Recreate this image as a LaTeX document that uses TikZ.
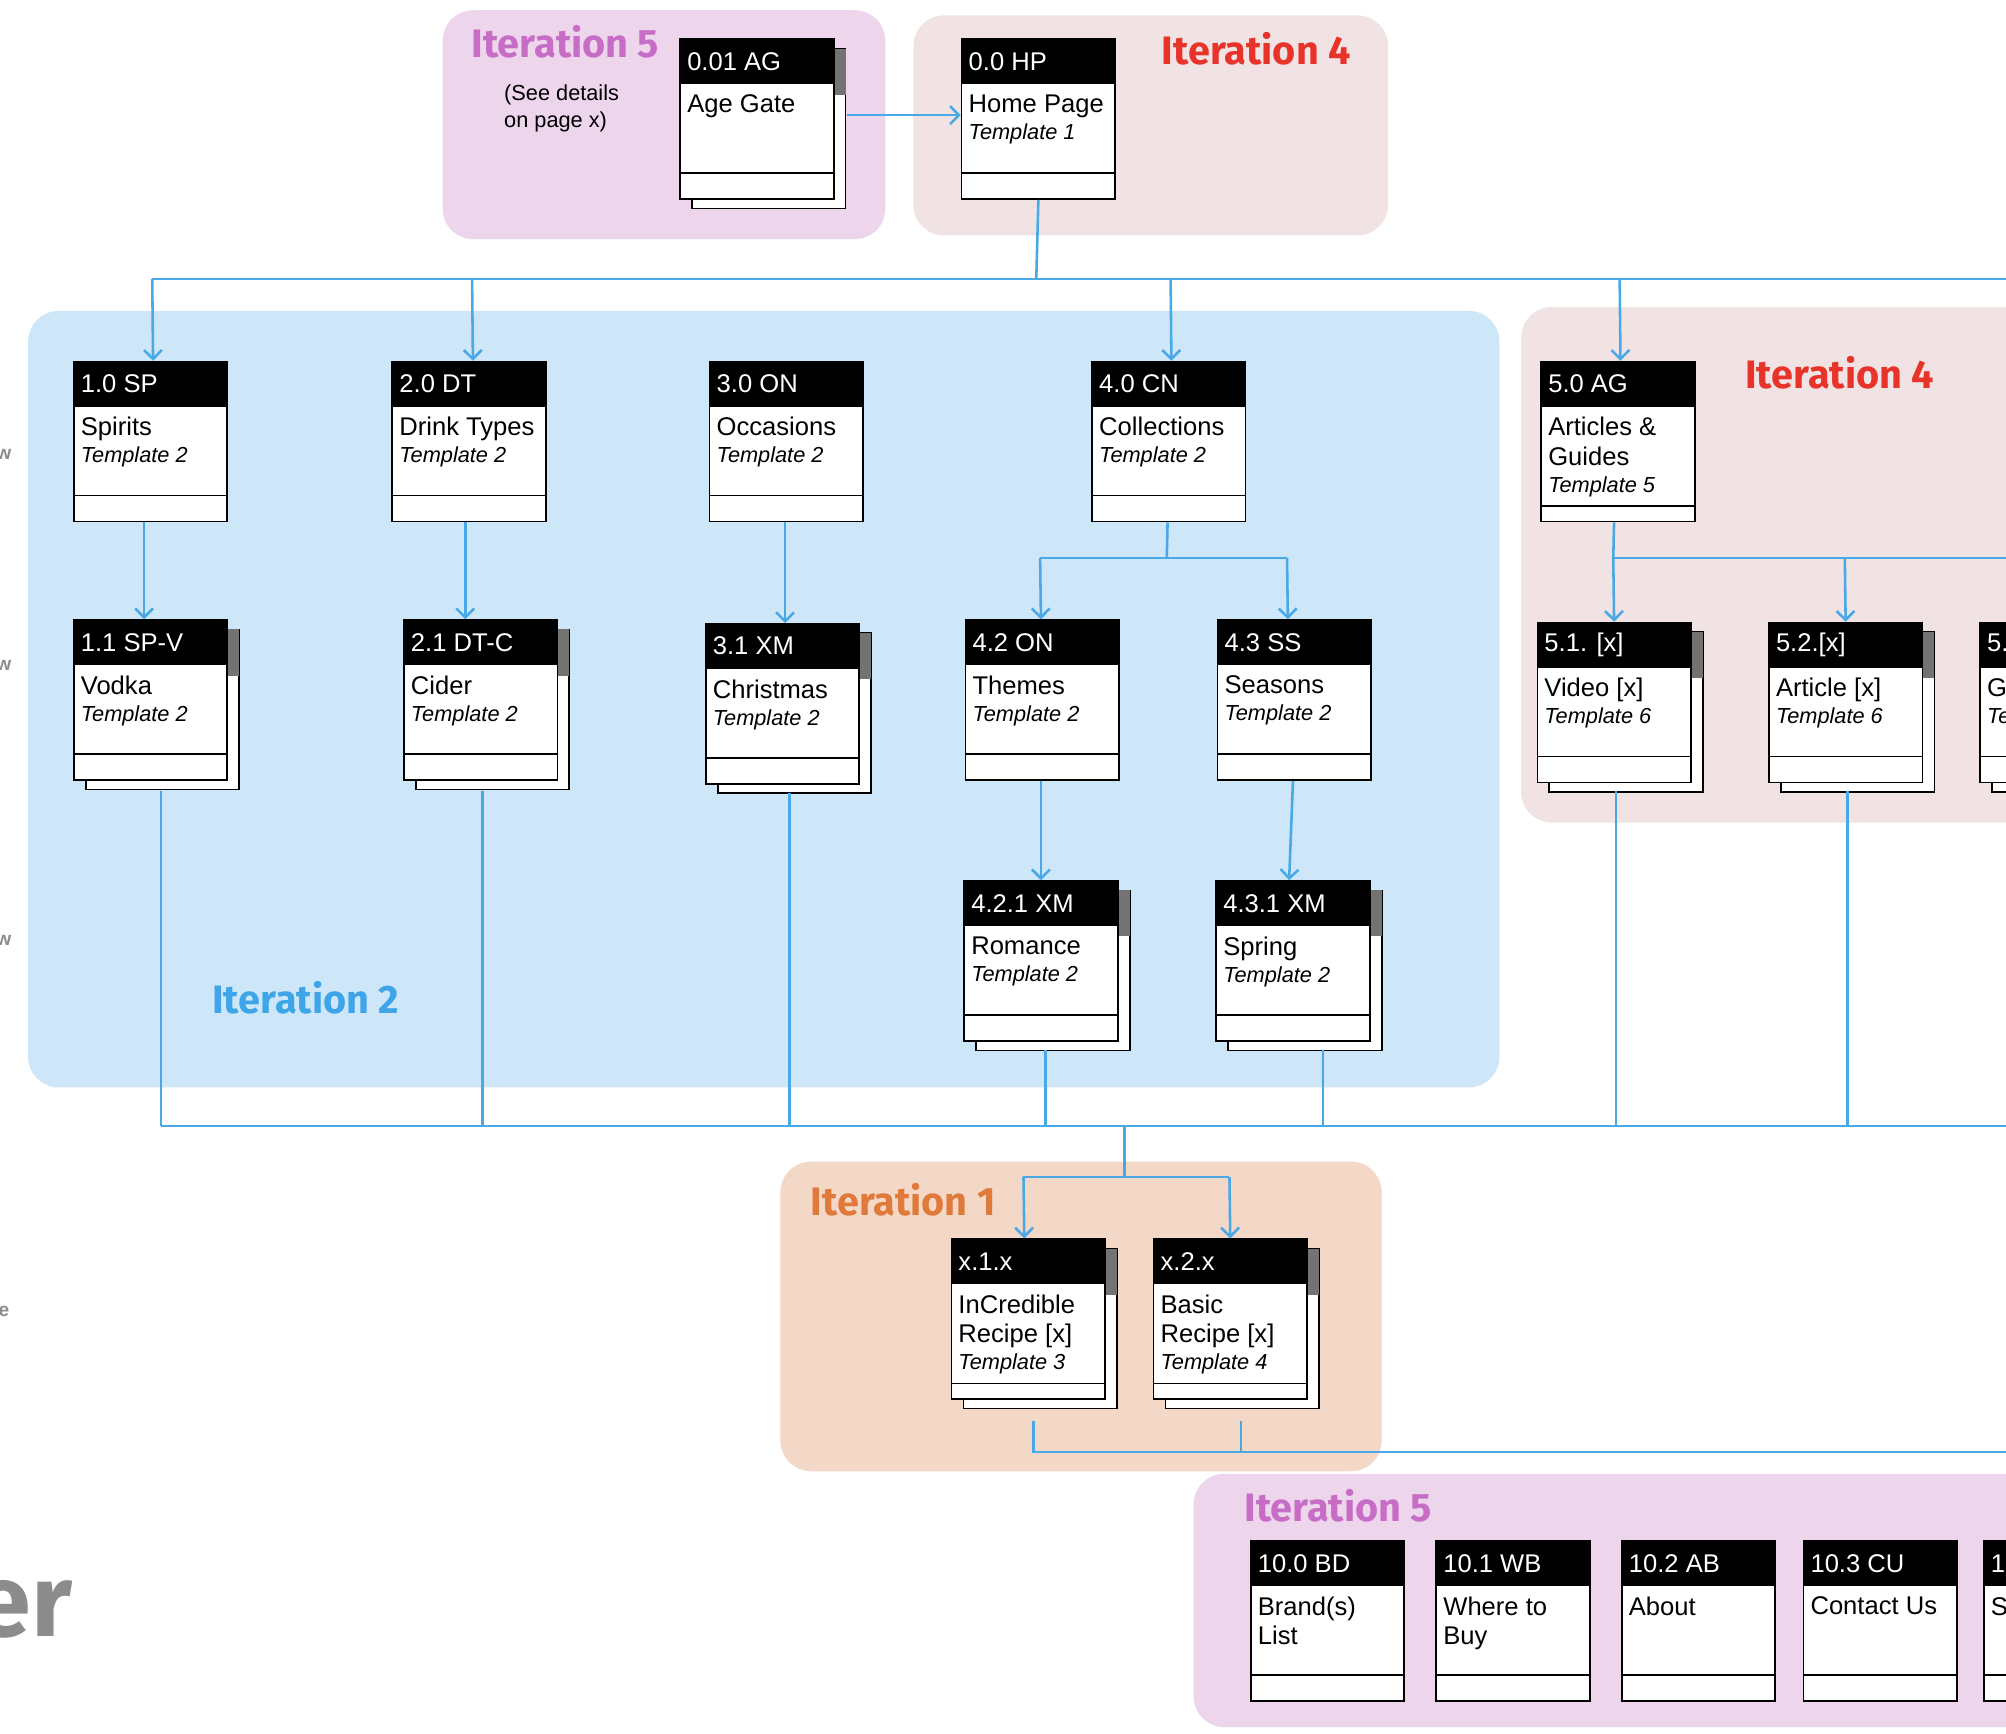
\documentclass[tikz,border=0pt]{standalone}
\usepackage{fontspec}
\setmainfont{Liberation Sans}
\newfontfamily\itfont{Fira Sans}
\usetikzlibrary{arrows.meta}

\definecolor{linkblue}{HTML}{49A8E6}
\definecolor{itpink}{HTML}{EDD5EC}
\definecolor{itrose}{HTML}{F1E3E3}
\definecolor{itblue}{HTML}{CDE6F8}
\definecolor{itpeach}{HTML}{F3D8C8}
\definecolor{labmag}{HTML}{C86DC6}
\definecolor{labred}{HTML}{E8332A}
\definecolor{labblue}{HTML}{3DA5E8}
\definecolor{laborange}{HTML}{E07A3A}

\tikzset{
  pg/.style={draw, line width=1.3pt, fill=white, minimum width=120pt, minimum height=125pt, anchor=north west, inner sep=0pt},
  pgline/.style={line width=1.3pt},
  pghead/.style={anchor=west, text=white, font=\fontsize{20}{22}\selectfont, inner sep=0pt},
  pgtext/.style={anchor=north west, align=left, font=\fontsize{20}{23}\selectfont, inner sep=0pt},
  region/.style={rounded corners=24pt},
  itlabel/.style={font=\itfont\bfseries\fontsize{31}{33}\selectfont},
  link/.style={linkblue, line width=2pt},
  arr/.style={link, -{Straight Barb[length=7pt,width=14pt]}},
}

\def\pgfoot{21}
% plain page box: name, x, y, id, body
\newcommand\pagebx[5]{%
  \node[pg] (#1) at (#2,#3) {};
  \fill[black] (#1.north west) rectangle ([yshift=-36pt]#1.north east);
  \node[pghead] at ([xshift=6pt,yshift=-18pt]#1.north west) {#4};
  \draw[pgline] ([yshift=\pgfoot pt]#1.south west) -- ([yshift=\pgfoot pt]#1.south east);
  \node[pgtext] at ([xshift=6pt,yshift=-44pt]#1.north west) {#5};
}
% stacked page box
\newcommand\pagestk[5]{%
  \draw[pgline, fill=white] (#2+10,#3+8) rectangle (#2+130,#3+133);
  \fill[black!55] (#2+120,#3+8) rectangle (#2+130,#3+44);
  \pagebx{#1}{#2}{#3}{#4}{#5}
}
\newcommand\tpl[1]{\\[-2pt]{\fontsize{17}{20}\selectfont\itshape #1}}

\begin{document}
\begin{tikzpicture}[x=1pt, y=-1pt]
\useasboundingbox (0,0) rectangle (1568,1355);
\clip (0,0) rectangle (1568,1355);
\fill[white] (0,0) rectangle (1568,1355);

% regions
\fill[itpink, region] (346,8) rectangle (692,187);
\fill[itrose, region] (714,12) rectangle (1085,184);
\fill[itblue, region] (22,243) rectangle (1172,850);
\fill[itrose, region] (1189,240) rectangle (1640,643);
\fill[itpeach, region] (610,908) rectangle (1080,1150);
\fill[itpink, region] (933,1152) rectangle (1640,1350);

\node[itlabel, labmag] at (442,33) {Iteration 5};
\node[itlabel, labred] at (982,38) {Iteration 4};
\node[itlabel, labblue] at (239,780) {Iteration 2};
\node[itlabel, labred] at (1438,291) {Iteration 4};
\node[itlabel, laborange] at (706,938) {Iteration 1};
\node[itlabel, labmag] at (1046,1177) {Iteration 5};
\node[align=left, font=\fontsize{17}{21}\selectfont] at (439,85) {(See details\\on page x)};

% cut-off fragments at the left edge
\node[black!45, font=\bfseries\fontsize{15}{15}\selectfont] at (3,355) {w};
\node[black!45, font=\bfseries\fontsize{15}{15}\selectfont] at (3,520) {w};
\node[black!45, font=\bfseries\fontsize{15}{15}\selectfont] at (3,735) {w};
\node[black!45, font=\bfseries\fontsize{15}{15}\selectfont] at (3,1025) {e};
\node[black!45, font=\itfont\bfseries\fontsize{80}{80}\selectfont, anchor=east] at (60,1258) {er};

% pages
\pagestk{ag}{531}{30}{0.01 AG}{Age Gate}
\pagebx{hp}{751}{30}{0.0 HP}{Home Page\tpl{Template 1}}
\pagebx{sp}{57}{282}{1.0 SP}{Spirits\tpl{Template 2}}
\pagebx{dt}{306}{282}{2.0 DT}{Drink Types\tpl{Template 2}}
\pagebx{on}{554}{282}{3.0 ON}{Occasions\tpl{Template 2}}
\pagebx{cn}{853}{282}{4.0 CN}{Collections\tpl{Template 2}}
\pagestk{spv}{57}{484}{1.1 SP-V}{Vodka\tpl{Template 2}}
\pagestk{dtc}{315}{484}{2.1 DT-C}{Cider\tpl{Template 2}}
\pagestk{xm}{551}{487}{3.1 XM}{Christmas\tpl{Template 2}}
\pagebx{th}{754}{484}{4.2 ON}{Themes\tpl{Template 2}}
\pagebx{ss}{951}{484}{4.3 SS}{Seasons\tpl{Template 2}}
\pagestk{vid}{1201}{486}{5.1. [x]}{Video [x]\tpl{Template 6}}
\pagestk{art}{1382}{486}{5.2.[x]}{Article [x]\tpl{Template 6}}
\pagestk{gal}{1547}{486}{5.3.[x]}{Gallery [x]\tpl{Template 6}}
\pagestk{rom}{753}{688}{4.2.1 XM}{Romance\tpl{Template 2}}
\pagestk{spr}{950}{688}{4.3.1 XM}{Spring\tpl{Template 2}}
\pagebx{bd}{977}{1204}{10.0 BD}{Brand(s)\\List}
\pagebx{wb}{1122}{1204}{10.1 WB}{Where to\\Buy}
\pagebx{ab}{1267}{1204}{10.2 AB}{About}
\pagebx{cu}{1409}{1204}{10.3 CU}{Contact Us}
\pagebx{sm}{1550}{1204}{10.4 SM}{Site Map}
% three-line pages keep a narrower footer
\def\pgfoot{13}
\pagebx{ag5}{1204}{282}{5.0 AG}{Articles \&\\Guides\tpl{Template 5}}
\pagestk{inc}{743}{968}{x.1.x}{InCredible\\Recipe [x]\tpl{Template 3}}
\pagestk{bas}{901}{968}{x.2.x}{Basic\\Recipe [x]\tpl{Template 4}}

% connectors
\draw[arr] ([xshift=10pt,yshift=-60pt]ag.north east) -- ([yshift=-60pt]hp.north west);
\coordinate (topbus) at (810,218);
\draw[link] (hp.south) -- (topbus);
\draw[link] (119,218) -- (1600,218);
\draw[arr] (119,218) -- ([xshift=2pt]sp.north);
\draw[arr] (369,218) -- ([xshift=3pt]dt.north);
\draw[arr] (915,218) -- ([xshift=2pt]cn.north);
\draw[arr] (1266,218) -- ([xshift=2pt]ag5.north);

\draw[arr] ([xshift=-5pt]sp.south) -- ([xshift=-5pt]spv.north);
\draw[arr] ([xshift=-3pt]dt.south) -- ([xshift=-12pt]dtc.north);
\draw[arr] ([xshift=-1pt]on.south) -- ([xshift=2pt]xm.north);

\draw[link] ([xshift=-1pt]cn.south) -- (912,436);
\draw[link] (813,436) -- (1006,436);
\draw[arr] (813,436) -- ([xshift=-1pt]th.north);
\draw[arr] (1006,436) -- ([xshift=-5pt]ss.north);
\draw[arr] ([xshift=-1pt]th.south) -- ([xshift=0pt]rom.north);
\draw[arr] ([xshift=-1pt]ss.south) -- ([xshift=-3pt]spr.north);

\draw[link] ([xshift=-3pt]ag5.south) -- (1261,436);
\draw[link] (1261,436) -- (1600,436);
\draw[arr] (1261,436) -- ([xshift=0pt]vid.north);
\draw[arr] (1442,436) -- ([xshift=0pt]art.north);

% lower bus
\draw[link] (126,880) -- (1600,880);
\draw[link] (126,618) -- (126,880);
\draw[link] (377,618) -- (377,880);
\draw[link] (617,620) -- (617,880);
\draw[link] (817,821) -- (817,880);
\draw[link] (1034,821) -- (1034,880);
\draw[link] (1263,618) -- (1263,880);
\draw[link] (1444,618) -- (1444,880);
\draw[link] (879,880) -- (879,920);
\draw[link] (800,920) -- (961,920);
\draw[arr] (800,920) -- ([xshift=-3pt]inc.north);
\draw[arr] (961,920) -- ([xshift=0pt]bas.north);

\draw[link] (808,1111) -- (808,1135) -- (1600,1135);
\draw[link] (970,1111) -- (970,1135);
\end{tikzpicture}
\end{document}
